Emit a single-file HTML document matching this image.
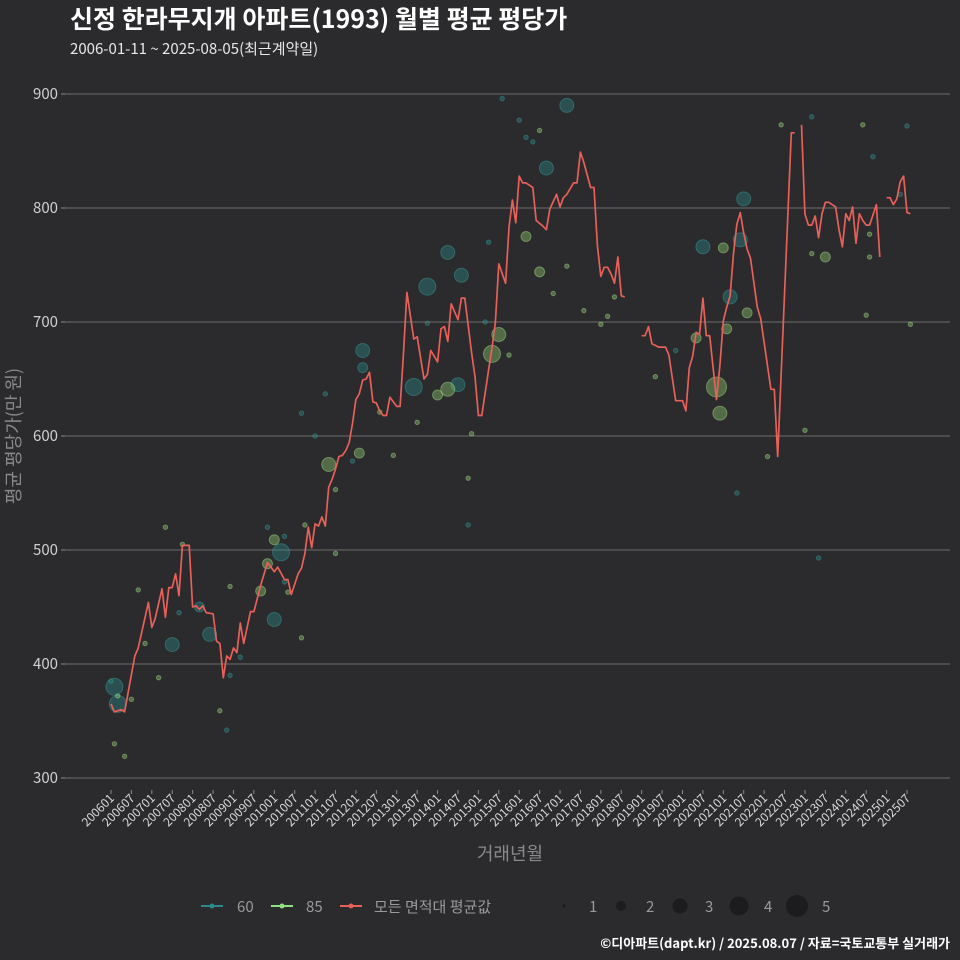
<!DOCTYPE html>
<html><head><meta charset="utf-8">
<style>
html,body{margin:0;padding:0;background:#2b2a2c;}
svg{display:block;font-family:"Noto Sans CJK KR","Liberation Sans",sans-serif;}
</style></head>
<body>
<svg id="chart" width="960" height="960" viewBox="0 0 960 960">
<rect x="0" y="0" width="960" height="960" fill="#2b2a2c"/>
<text x="70" y="28" fill="#ffffff" font-size="25" font-weight="bold">신정 한라무지개 아파트(1993) 월별 평균 평당가</text>
<text x="70" y="54" fill="#e8e8e8" font-size="15">2006-01-11 ~ 2025-08-05(최근계약일)</text>
<g id="grid"></g>
<g id="bubbles"></g>
<g id="line"></g>
<g id="xaxis"></g>
<text transform="translate(20,436) rotate(-90)" text-anchor="middle" fill="#8a8a8a" font-size="18">평균 평당가(만 원)</text>
<text x="510" y="860" text-anchor="middle" fill="#8a8a8a" font-size="18">거래년월</text>
<g font-size="15" fill="#9a9a9a">
  <g>
    <line x1="201" y1="906" x2="223" y2="906" stroke="#2a8a8a" stroke-width="2"/><circle cx="212" cy="906" r="2.5" fill="#2a8a8a"/>
    <text x="237" y="912">60</text></g>
  <g>
    <line x1="271" y1="906" x2="293" y2="906" stroke="#8fe080" stroke-width="2"/><circle cx="282" cy="906" r="2.5" fill="#8fe080"/>
    <text x="306" y="912">85</text></g>
  <g>
    <line x1="340" y1="906" x2="362" y2="906" stroke="#e8605a" stroke-width="2"/><circle cx="351" cy="906" r="2.5" fill="#e8605a"/>
    <text x="374" y="912">모든 면적대 평균값</text></g>
  <g fill="#1c1b1d">
    <circle cx="564" cy="906" r="1.5"/><text x="589" y="912" fill="#9a9a9a">1</text>
    <circle cx="621" cy="906" r="5"/><text x="646" y="912" fill="#9a9a9a">2</text>
    <circle cx="680" cy="906" r="7.5"/><text x="705" y="912" fill="#9a9a9a">3</text>
    <circle cx="739" cy="906" r="9.5"/><text x="764" y="912" fill="#9a9a9a">4</text>
    <circle cx="797" cy="906" r="11"/><text x="822" y="912" fill="#9a9a9a">5</text>
  </g>
</g>
<text x="950" y="948" text-anchor="end" fill="#ffffff" font-size="13" font-weight="bold">©디아파트(dapt.kr) / 2025.08.07 / 자료=국토교통부 실거래가</text>
</svg>
<script>
// y tick labels
const yTicks = [300, 400, 500, 600, 700, 800, 900];
// average line: month index (0 = 2006-01), value; null = gap
const lineMonths = [0,1,3,4,7,8,11,12,13,15,16,17,18,19,20,21,23,24,25,26,27,28,30,31,32,33,34,35,36,37,38,39,41,42,44,46,48,49,51,52,53,55,56,57,58,59,60,61,62,63,64,65,66,67,68,69,70,71,72,73,74,75,76,77,78,79,80,81,82,84,85,86,87,89,90,92,93,94,96,97,98,99,100,102,103,104,106,107,108,109,111,112,113,114,116,117,118,119,120,121,122,124,125,127,128,129,131,132,133,134,136,137,138,139,141,142,143,144,145,146,147,148,149,150,151,154,156,157,158,159,161,163,164,166,168,169,170,171,172,173,174,175,176,178,179,180,181,182,183,184,185,186,187,188,190,191,194,195,196,200,201,202,203,204,205,206,207,208,209,210,211,213,214,215,216,217,218,219,220,221,222,223,225,226,227,228,229,230,231,232,233,234,235];
const lineValues = [365,358,360,358,407,414,454,432,440,466,441,467,467,479,460,504,504,450,451,448,451,445,444,420,418,388,407,404,414,410,436,418,446,446,469,489,481,485,474,474,461,479,484,497,520,502,523,521,529,521,555,562,571,582,583,587,594,611,632,637,649,650,656,630,629,622,618,618,634,626,626,673,726,685,687,650,654,675,665,694,696,683,716,702,721,721,673,652,618,618,658,677,700,751,734,783,807,787,828,822,822,818,789,784,781,799,812,801,809,812,822,822,849,840,818,818,767,740,748,748,742,734,757,723,722,null,688,688,696,681,678,678,671,631,631,622,660,670,691,689,721,688,688,632,662,701,713,723,760,786,796,778,764,756,713,703,641,641,582,866,866,null,873,795,785,785,793,774,795,805,805,801,781,766,795,789,801,769,795,789,785,785,803,757,null,809,809,803,808,823,828,796,795,786];
// 60㎡ bubbles
const m60Months = [1,2,0,18,26,29,48,50,51,46,35,34,89,93,99,103,102,74,74,134,128,111,115,120,122,124,166,184,186,182,185,206,174,110,105,93,71,63,56,51,60,38,20,208,224,232,234];
const m60Values = [380,365,385,417,450,426,439,498,472,520,390,342,643,731,761,741,645,675,660,890,835,770,896,877,862,858,675,550,808,722,772,880,766,700,522,699,578,637,620,512,600,406,445,493,845,812,872];
const m60Sizes = [4,4,1,3,2,3,3,4,1,1,1,1,4,4,3,3,3,3,2,3,3,1,1,1,1,1,1,1,3,3,3,1,3,1,1,1,1,1,1,1,1,1,1,1,1,1,1];
// 85㎡ bubbles
const m85Months = [2,1,4,6,8,10,14,16,21,32,35,44,46,48,52,56,57,64,66,66,73,79,83,90,96,99,105,112,114,122,126,130,134,139,144,148,160,172,178,179,181,180,187,193,197,206,210,204,221,222,223,223,235,146,126,117,106];
const m85Values = [372,330,319,369,465,418,388,520,505,359,468,464,488,509,463,423,522,575,497,553,585,621,583,612,636,641,563,672,689,775,744,725,749,710,698,722,652,686,643,620,694,765,708,582,873,760,757,605,873,706,777,757,698,705,868,671,602];
const m85Sizes = [1,1,1,1,1,1,1,1,1,1,1,2,2,2,1,1,1,3,1,1,2,1,1,1,2,3,1,4,3,2,2,1,1,1,1,1,1,2,5,3,2,2,2,1,1,1,2,1,1,1,1,1,1,1,1,1,1];
// x tick labels (every 6 months)
const xTickLabels = [];
for (let y = 2006; y <= 2025; y++) { xTickLabels.push(y + '01'); xTickLabels.push(y + '07'); }

const NS = 'http://www.w3.org/2000/svg';
function xScale(m) { return 111 + m * (796 / 234); }
function yScale(v) { return 778 - (v - 300) * (684 / 600); }
function rScale(s) { return [0, 2.2, 5, 7, 8.5, 10][s]; }
function mk(tag, attrs, parent) {
  const el = document.createElementNS(NS, tag);
  for (const k in attrs) el.setAttribute(k, attrs[k]);
  parent.appendChild(el);
  return el;
}
const grid = document.getElementById('grid');
yTicks.forEach(t => {
  const y = yScale(t);
  const ln = mk('line', {x1: 65, x2: 950, y1: y, y2: y, stroke: '#6e6e6e', 'stroke-width': 1}, grid);
  
  
  const tk = mk('line', {x1: 61, x2: 65, y1: y, y2: y, stroke: '#8a8a8a'}, grid);
  
  
  const tx = mk('text', {x: 58, y: y + 5, 'text-anchor': 'end', fill: '#d0d0d0', 'font-size': 15}, grid);
  
  
  tx.textContent = t;
});
const xa = document.getElementById('xaxis');
xTickLabels.forEach((lab, i) => {
  const x = xScale(i * 6);
  const tk = mk('line', {x1: x, x2: x, y1: 790, y2: 794, stroke: '#8a8a8a'}, xa);
  
  
  const tx = mk('text', {transform: 'translate(' + (x + 4) + ',799) rotate(-45)', 'text-anchor': 'end', fill: '#d8d8d8', 'font-size': 12}, xa);
  
  
  tx.textContent = lab;
});
const bub = document.getElementById('bubbles');
function drawBubbles(ms, vs, ss, fill, stroke, name) {
  ms.forEach((m, i) => {
    const c = mk('circle', {cx: xScale(m), cy: yScale(vs[i]), r: rScale(ss[i]), fill: fill, 'fill-opacity': 0.4, stroke: stroke, 'stroke-opacity': 0.45, 'stroke-width': 1}, bub);
    
    
  });
}
drawBubbles(m60Months, m60Values, m60Sizes, '#2a8a8a', '#3aa0a0', 'bubble-60');
drawBubbles(m85Months, m85Values, m85Sizes, '#90d070', '#a8e090', 'bubble-85');
const lg = document.getElementById('line');
let d = '', pen = false;
lineMonths.forEach((m, i) => {
  const v = lineValues[i];
  if (v === null) { pen = false; return; }
  d += (pen ? 'L' : 'M') + xScale(m).toFixed(1) + ',' + yScale(v).toFixed(1);
  pen = true;
});
const p = mk('path', {d: d, fill: 'none', stroke: '#e8605a', 'stroke-width': 1.7, 'stroke-linejoin': 'round'}, lg);


</script>
</body></html>
